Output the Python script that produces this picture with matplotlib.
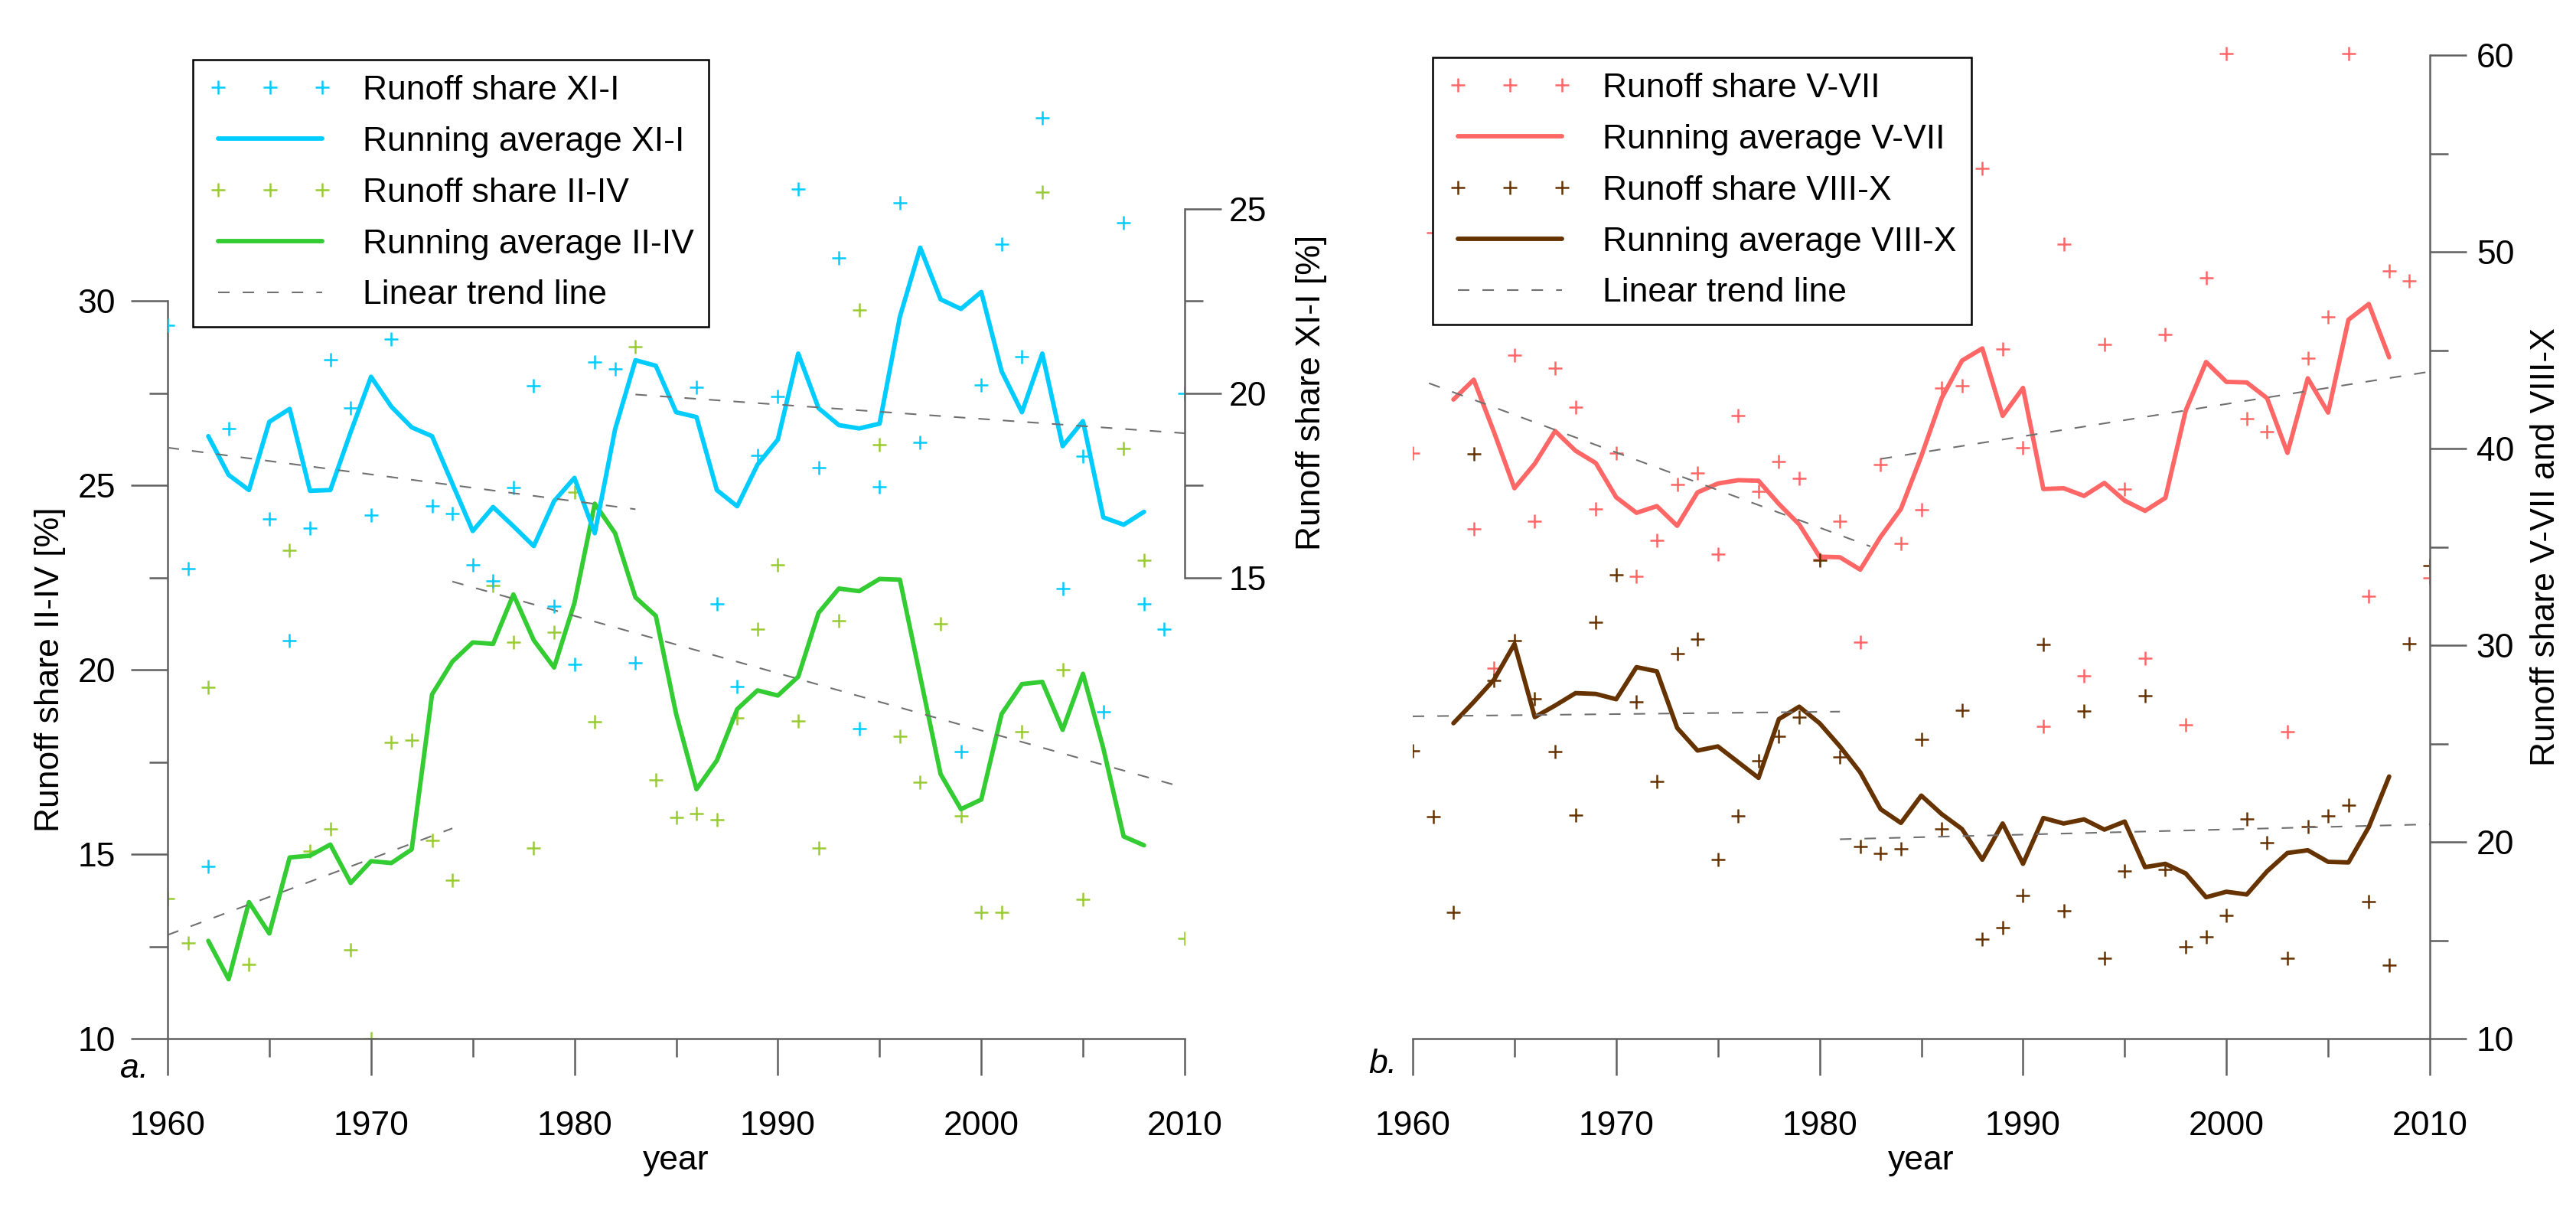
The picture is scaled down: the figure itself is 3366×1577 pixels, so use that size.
import numpy as np
import matplotlib
matplotlib.use("Agg")
import matplotlib.pyplot as plt

plt.rcParams['font.family'] = ['Liberation Sans', 'DejaVu Sans']

nan = np.nan
years = np.arange(1960, 2011)
avg_years = np.arange(1962, 2009)

# ---------------- panel a ----------------
share_xi_i = [21.83, 15.24, 7.17, 19.04, nan, 16.59, 13.28, 16.33, 20.91, 19.59,
              16.69, 21.46, nan, 16.93, 16.74, 15.35, 14.9, 17.44, 20.20, 14.22,
              12.65, 20.85, 20.65, 12.69, nan, nan, 20.15, 14.28, 12.04, 18.30,
              19.91, 25.52, 17.98, 23.67, 10.9, 17.46, 25.15, 18.67, nan, 10.28,
              20.22, 24.04, 20.98, 27.46, 14.69, 18.28, 11.35, 24.61, 14.28, 13.59, 19.98]
avg_xi_i = [18.83, 17.78, 17.37, 19.22, 19.57, 17.35, 17.37, 18.94, 20.44, 19.63,
            19.07, 18.83, 17.54, 16.26, 16.91, 16.39, 15.85, 17.07, 17.70, 16.20,
            19.02, 20.89, 20.74, 19.48, 19.35, 17.37, 16.93, 18.06, 18.74, 21.07,
            19.59, 19.13, 19.04, 19.17, 22.07, 23.94, 22.54, 22.28, 22.74, 20.59,
            19.48, 21.07, 18.56, 19.24, 16.63, 16.43, 16.78]
share_ii_iv = [13.80, 12.59, 19.52, nan, 12.02, nan, 23.24, 15.09, 15.69, 12.41,
               10.0, 18.02, 18.09, 15.37, 14.30, nan, 22.28, 20.74, 15.17, 21.02,
               24.81, 18.59, nan, 28.76, 17.02, 16.0, 16.11, 15.93, 18.70, 21.11,
               22.85, 18.61, 15.17, 21.33, 29.76, 26.11, 18.20, 16.96, 21.24, 16.04,
               13.43, 13.43, 18.31, 32.94, 20.0, 13.78, nan, 26.0, 22.96, nan, 12.72]
avg_ii_iv = [12.65, 11.61, 13.70, 12.85, 14.91, 14.96, 15.26, 14.22, 14.81, 14.76,
             15.13, 19.33, 20.22, 20.74, 20.70, 22.04, 20.80, 20.06, 21.81, 24.50,
             23.70, 21.96, 21.46, 18.80, 16.76, 17.54, 18.93, 19.44, 19.30, 19.81,
             21.54, 22.20, 22.13, 22.46, 22.44, 19.81, 17.17, 16.22, 16.48, 18.80,
             19.61, 19.67, 18.37, 19.89, 17.87, 15.48, 15.24]
trend_years_xi_i = [[1960, 1983], [1983, 2010]]
trend_xi_i = [[18.52, 16.85], [19.96, 18.91]]
trend_years_ii_iv = [[1960, 1974], [1974, 2010]]
trend_ii_iv = [[12.81, 15.70], [22.39, 16.80]]

# ---------------- panel b ----------------
share_v_vii = [39.79, 50.97, nan, 35.94, 28.85, 44.76, 36.32, 44.10, 42.12, 36.94,
               39.79, 33.51, 35.35, 38.19, 38.75, 34.65, 41.67, 37.85, 39.34, 38.51,
               34.38, 36.32, 30.17, 39.20, 35.17, 36.88, 43.09, 43.19, 54.27, 45.07,
               40.03, 25.87, 50.42, 28.44, 45.31, 37.95, 29.34, 45.80, 25.94, 48.68,
               60.10, 41.53, 40.87, 25.59, 44.62, 46.70, 60.10, 32.50, 49.06, 48.54, 33.44]
avg_v_vii = [42.50, 43.51, 40.83, 37.99, 39.24, 40.90, 39.90, 39.27, 37.53, 36.74,
             37.08, 36.08, 37.78, 38.23, 38.40, 38.37, 37.19, 36.15, 34.51, 34.48,
             33.85, 35.52, 36.94, 39.62, 42.57, 44.48, 45.10, 41.67, 43.09, 37.95,
             37.99, 37.60, 38.26, 37.36, 36.84, 37.50, 41.94, 44.41, 43.40, 43.37,
             42.57, 39.79, 43.58, 41.84, 46.56, 47.36, 44.65]
share_viii_x = [24.62, 21.28, 16.42, 39.72, 28.2, 30.24, 27.29, 24.58, 21.35, 31.18,
                33.58, 27.12, 23.09, 29.58, 30.31, 19.10, 21.32, 24.13, 25.38, 26.35,
                34.31, 24.34, 19.76, 19.41, 19.65, 25.21, 20.66, 26.70, 15.07, 15.63,
                17.29, 30.03, 16.49, 26.67, 14.10, 18.54, 27.43, 18.61, 14.69, 15.17,
                16.28, 21.18, 19.97, 14.10, 20.80, 21.32, 21.88, 16.98, 13.75, 30.10, 34.06]
avg_viii_x = [26.04, 27.12, 28.26, 30.07, 26.35, 26.94, 27.57, 27.53, 27.26, 28.89,
              28.68, 25.80, 24.65, 24.86, 24.06, 23.26, 26.25, 26.88, 26.04, 24.86,
              23.54, 21.67, 20.97, 22.36, 21.42, 20.66, 19.10, 20.94, 18.89, 21.22,
              20.94, 21.15, 20.63, 21.04, 18.72, 18.89, 18.40, 17.19, 17.47, 17.33,
              18.51, 19.44, 19.58, 18.99, 18.96, 20.76, 23.33]
trend_years_v_vii = [[1960.8, 1982.5], [1983, 2010]]
trend_v_vii = [[43.33, 35.03], [39.48, 43.92]]
trend_years_viii_x = [[1960, 1981], [1981, 2010]]
trend_viii_x = [[26.39, 26.63], [20.14, 20.90]]

labels_a = ['Runoff share XI-I', 'Running average XI-I', 'Runoff share II-IV',
            'Running average II-IV', 'Linear trend line']
labels_b = ['Runoff share V-VII', 'Running average V-VII', 'Runoff share VIII-X',
            'Running average VIII-X', 'Linear trend line']

# ---------------- styles ----------------
C_BLUE = '#00CCFF'
C_GREEN_L = '#33CC33'
C_GREEN_M = '#99CC33'
C_RED = '#FF6666'
C_BROWN = '#663300'
C_TREND = '#707070'
C_AXIS = '#606060'
FS = 10.7
LW = 1.4
MS = 4.4
MEW = 0.6
DASH = (7.2, 8.2)

W, H = 3366, 1577
fig = plt.figure(figsize=(W / 300, H / 300), dpi=300)


def fx(px):
    return px / W


def fy(py):
    return 1 - py / H


def style_ticks(ax, axis, pad):
    ax.tick_params(axis=axis, which='both', direction='out', color=C_AXIS,
                   width=0.6, labelsize=FS, labelcolor='black', pad=pad)
    ax.tick_params(axis=axis, which='major', length=11.5)
    ax.tick_params(axis=axis, which='minor', length=5.8)


def scatter(ax, x, y, color):
    return ax.plot(x, y, linestyle='none', marker='+', ms=MS, mew=MEW, color=color)[0]


def runavg(ax, x, y, color):
    return ax.plot(x, y, color=color, lw=LW, solid_capstyle='round',
                   solid_joinstyle='round')[0]


def trend(ax, xs, ys):
    h = None
    for xx, yy in zip(xs, ys):
        h = ax.plot(xx, yy, color=C_TREND, lw=0.5, dashes=DASH)[0]
    return h


LEG_KW = dict(loc='upper left', bbox_transform=fig.transFigure, borderaxespad=0,
              frameon=True, fancybox=False, edgecolor='black', framealpha=1,
              fontsize=FS, numpoints=3, handlelength=3.65, handletextpad=0.87,
              labelspacing=0.58, borderpad=0.45)

ylimL = (10, 38.154)
offset_xi = 7.5

# ---------------- panel a axes ----------------
axL = fig.add_axes([fx(219), fy(1357), fx(1548) - fx(219), fy(0) - fy(1357)])
axL.set_xlim(1960, 2010)
axL.set_ylim(*ylimL)
ax2 = axL.twinx()
ax2.set_ylim(ylimL[0] - offset_xi, ylimL[1] - offset_xi)

for ax in (axL, ax2):
    for s in ax.spines.values():
        s.set_visible(False)
        s.set_color(C_AXIS)
        s.set_linewidth(0.6)

axL.spines['left'].set_visible(True)
axL.spines['left'].set_bounds(10, 30)
axL.spines['bottom'].set_visible(True)
axL.spines['bottom'].set_bounds(1960, 2010)
ax2.spines['right'].set_visible(True)
ax2.spines['right'].set_bounds(15, 25)

axL.set_xticks(np.arange(1960, 2011, 10))
axL.set_xticks(np.arange(1965, 2010, 10), minor=True)
axL.set_yticks(np.arange(10, 31, 5))
axL.set_yticks(np.arange(12.5, 30, 5), minor=True)
ax2.set_yticks([15, 20, 25])
ax2.set_yticks([17.5, 22.5], minor=True)
style_ticks(axL, 'x', 11)
style_ticks(axL, 'y', 4.8)
style_ticks(ax2, 'y', 2.4)

hg1 = scatter(axL, years, share_ii_iv, C_GREEN_M)
hg2 = runavg(axL, avg_years, avg_ii_iv, C_GREEN_L)
trend(axL, trend_years_ii_iv, trend_ii_iv)
hb1 = scatter(ax2, years, share_xi_i, C_BLUE)
hb2 = runavg(ax2, avg_years, avg_xi_i, C_BLUE)
ht = trend(ax2, trend_years_xi_i, trend_xi_i)

legA = ax2.legend([hb1, hb2, hg1, hg2, ht], labels_a,
                  bbox_to_anchor=(fx(252), fy(78)), **LEG_KW)
legA.get_frame().set_linewidth(0.6)

# ---------------- panel b axes ----------------
axR = fig.add_axes([fx(1846), fy(1357), fx(3175) - fx(1846), fy(0) - fy(1357)])
axR.set_xlim(1960, 2010)
axR.set_ylim(10, 62.82)
for s in axR.spines.values():
    s.set_visible(False)
    s.set_color(C_AXIS)
    s.set_linewidth(0.6)
axR.spines['right'].set_visible(True)
axR.spines['right'].set_bounds(10, 60)
axR.spines['bottom'].set_visible(True)
axR.spines['bottom'].set_bounds(1960, 2010)
axR.yaxis.tick_right()
axR.set_xticks(np.arange(1960, 2011, 10))
axR.set_xticks(np.arange(1965, 2010, 10), minor=True)
axR.set_yticks(np.arange(10, 61, 10))
axR.set_yticks(np.arange(15, 60, 10), minor=True)
style_ticks(axR, 'x', 11)
style_ticks(axR, 'y', 3.1)

hr1 = scatter(axR, years, share_v_vii, C_RED)
hr2 = runavg(axR, avg_years, avg_v_vii, C_RED)
hn1 = scatter(axR, years, share_viii_x, C_BROWN)
hn2 = runavg(axR, avg_years, avg_viii_x, C_BROWN)
trend(axR, trend_years_v_vii, trend_v_vii)
ht2 = trend(axR, trend_years_viii_x, trend_viii_x)

legB = axR.legend([hr1, hr2, hn1, hn2, ht2], labels_b,
                  bbox_to_anchor=(fx(1872), fy(75)), **LEG_KW)
legB.get_frame().set_linewidth(0.6)

# ---------------- texts ----------------
fig.text(fx(66), fy(875), 'Runoff share II-IV [%]', rotation=90,
         ha='center', va='center', fontsize=FS)
fig.text(fx(1714), fy(513), 'Runoff share XI-I [%]', rotation=90,
         ha='center', va='center', fontsize=FS)
fig.text(fx(3326), fy(715), 'Runoff share V-VII and VIII-X', rotation=90,
         ha='center', va='center', fontsize=FS)
fig.text(fx(883), fy(1528), 'year', ha='center', va='baseline', fontsize=FS)
fig.text(fx(2510), fy(1528), 'year', ha='center', va='baseline', fontsize=FS)
fig.text(fx(157), fy(1408), 'a.', ha='left', va='baseline', fontsize=FS, style='italic')
fig.text(fx(1826), fy(1402), 'b.', ha='right', va='baseline', fontsize=FS, style='italic')

fig.savefig('out.png', dpi=300, facecolor='white')
